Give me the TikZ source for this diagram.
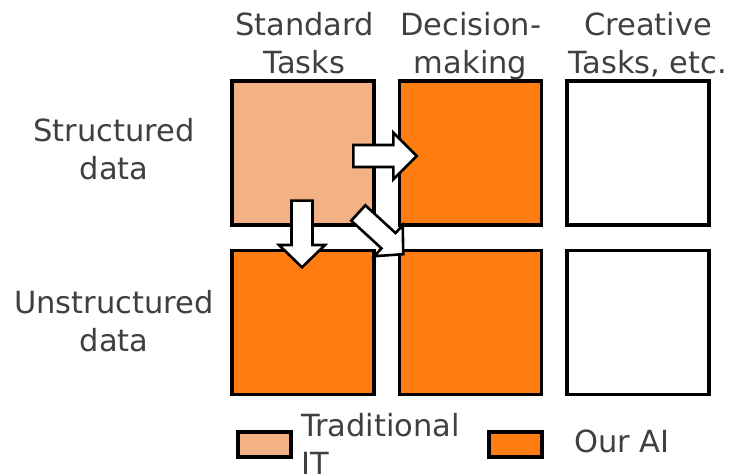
\documentclass[tikz,border=0pt]{standalone}
\usepackage{fontspec}
\setmainfont{DejaVu Sans}
\definecolor{lightor}{RGB}{244,177,131}
\definecolor{aiorange}{RGB}{255,124,16}
\definecolor{txtgray}{RGB}{64,64,64}
\begin{document}
\begin{tikzpicture}[x=1pt,y=-1pt,
  cell/.style={draw=black, line width=3.2pt, minimum width=142pt, minimum height=144pt, inner sep=0pt},
  lbl/.style={text=txtgray, font=\fontsize{30.5}{38}\selectfont, align=center, inner sep=0pt, anchor=base},
  legbox/.style={draw=black, line width=3.2pt, minimum width=53pt, minimum height=25pt, inner sep=0pt},
  barrow/.style={draw=black, fill=white, line width=2.6pt, line join=miter},
  pics/blockarrow/.style n args={4}{code={
    \draw[barrow] (0,-#3) -- ({#1-#2},-#3) -- ({#1-#2},-#4) -- (#1,0)
      -- ({#1-#2},#4) -- ({#1-#2},#3) -- (0,#3) -- cycle;}}]
\useasboundingbox (0,0) rectangle (729,476);
% grid cells
\node[cell, fill=lightor]  (c11) at (303,153) {};
\node[cell, fill=aiorange] (c12) at (470.5,153) {};
\node[cell, fill=white]    (c13) at (638,153) {};
\node[cell, fill=aiorange] (c21) at (303,322.5) {};
\node[cell, fill=aiorange] (c22) at (470.5,322.5) {};
\node[cell, fill=white]    (c23) at (638,322.5) {};
% headers (anchor = baseline of last line)
\node[lbl] (h1) at (304.5,74) {Standard\\Tasks};
\node[lbl] (h2) at (470.6,74) {Decision-\\making};
\node[lbl] (h3) at (648,74) {Creative\\Tasks, etc.};
% row labels
\node[lbl] (r1) at (114,180) {Structured\\data};
\node[lbl] (r2) at (114,351.5) {Unstructured\\data};
% block arrows
\pic[shift={(353.3,156)}] {blockarrow={63.4}{23.4}{11}{23.5}};
\pic[shift={(302,200.7)}, rotate=-90] {blockarrow={66.6}{22.3}{10.5}{23}};
\pic[shift={(358.3,213)}, rotate=-42.5] {blockarrow={61}{20}{10.4}{21}};
% legend
\node[legbox, fill=lightor]  (k1) at (264.5,444.5) {};
\node[legbox, fill=aiorange] (k2) at (515.5,444.5) {};
\node[lbl, anchor=base west, align=left] (t1) at (301,474.7) {Traditional\\IT};
\node[lbl, anchor=base west] (t2) at (574,452.3) {Our AI};
\end{tikzpicture}
\end{document}
